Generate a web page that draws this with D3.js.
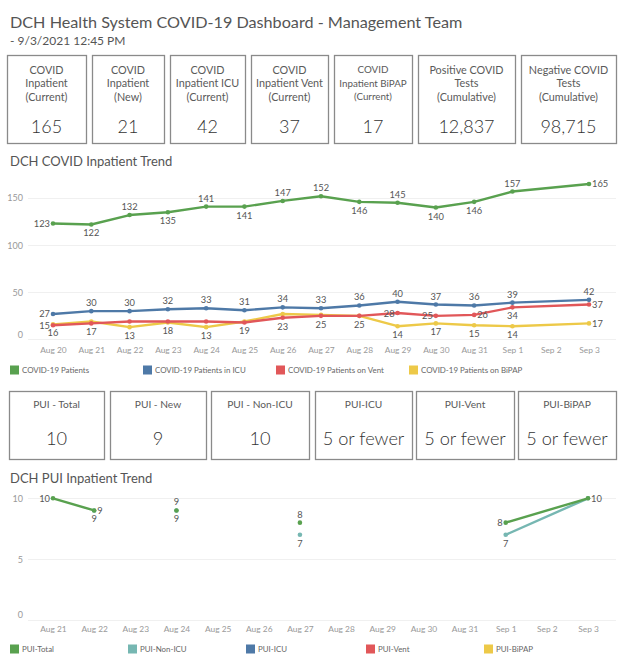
<!DOCTYPE html>
<html><head><meta charset="utf-8">
<script src="https://cdn.jsdelivr.net/npm/d3@7"></script>
<style>
body{margin:0;background:#fff;}
svg text{font-family:Lato,"Open Sans",sans-serif;}
</style>
</head><body>
<svg id="c" width="624" height="666"></svg>
<script>
// ---------- DATA ----------
const titleText = "DCH Health System COVID-19 Dashboard - Management Team";
const subtitleText = "- 9/3/2021 12:45 PM";

const kpiLabels = [
  ["COVID","Inpatient","(Current)"],
  ["COVID","Inpatient","(New)"],
  ["COVID","Inpatient ICU","(Current)"],
  ["COVID","Inpatient Vent","(Current)"],
  ["COVID","Inpatient BiPAP","(Current)"],
  ["Positive COVID","Tests","(Cumulative)"],
  ["Negative COVID","Tests","(Cumulative)"]
];
const kpiValues = ["165","21","42","37","17","12,837","98,715"];

const puiLabels = ["PUI - Total","PUI - New","PUI - Non-ICU","PUI-ICU","PUI-Vent","PUI-BiPAP"];
const puiValues = ["10","9","10","5 or fewer","5 or fewer","5 or fewer"];

// trend chart axis
const trendTickDates = ["2021-08-20","2021-08-21","2021-08-22","2021-08-23","2021-08-24","2021-08-25","2021-08-26","2021-08-27","2021-08-28","2021-08-29","2021-08-30","2021-08-31","2021-09-01","2021-09-02","2021-09-03"];
const trendTickLabels = ["Aug 20","Aug 21","Aug 22","Aug 23","Aug 24","Aug 25","Aug 26","Aug 27","Aug 28","Aug 29","Aug 30","Aug 31","Sep 1","Sep 2","Sep 3"];
const trendYTicks = [0,50,100,150];
// trend data rows (no row for Sep 2)
const trendDates = ["2021-08-20","2021-08-21","2021-08-22","2021-08-23","2021-08-24","2021-08-25","2021-08-26","2021-08-27","2021-08-28","2021-08-29","2021-08-30","2021-08-31","2021-09-01","2021-09-03"];
const covidPatients = [123,122,132,135,141,141,147,152,146,145,140,146,157,165];
const covidICU      = [27,30,30,32,33,31,34,33,36,40,37,36,39,42];
const covidVent     = [15,17,19,19,19,18,23,25,25,28,25,26,34,37];
const covidBiPAP    = [16,19,13,18,13,19,27,26,25,14,17,15,14,17];
const trendSeriesNames = ["COVID-19 Patients","COVID-19 Patients in ICU","COVID-19 Patients on Vent","COVID-19 Patients on BiPAP"];

// PUI chart
const puiTickDates = ["2021-08-21","2021-08-22","2021-08-23","2021-08-24","2021-08-25","2021-08-26","2021-08-27","2021-08-28","2021-08-29","2021-08-30","2021-08-31","2021-09-01","2021-09-02","2021-09-03"];
const puiTickLabels = ["Aug 21","Aug 22","Aug 23","Aug 24","Aug 25","Aug 26","Aug 27","Aug 28","Aug 29","Aug 30","Aug 31","Sep 1","Sep 2","Sep 3"];
const puiYTicks = [0,5,10];
const puiDates = ["2021-08-21","2021-08-22","2021-08-23","2021-08-24","2021-08-25","2021-08-26","2021-08-27","2021-08-28","2021-08-29","2021-08-30","2021-08-31","2021-09-01","2021-09-03"];
const puiTotal  = [10,9,null,9,null,null,8,null,null,null,null,8,10];
const puiNonICU = [null,9,null,9,null,null,7,null,null,null,null,7,10];
const puiICU    = [null,null,null,null,null,null,null,null,null,null,null,null,null];
const puiVent   = [null,null,null,null,null,null,null,null,null,null,null,null,null];
const puiBiPAP  = [null,null,null,null,null,null,null,null,null,null,null,null,null];
const puiSeriesNames = ["PUI-Total","PUI-Non-ICU","PUI-ICU","PUI-Vent","PUI-BiPAP"];

// ---------- STYLE / LAYOUT ----------
const C = {green:"#59a14f", blue:"#4e79a7", red:"#e15759", yellow:"#edc948", teal:"#76b7b2"};
const textDark = "#555", textAxis = "#999";
// label placement: a=above b=below l=left r=right ''=none
const placePatients = ["l","b","a","b","a","b","a","a","b","a","b","b","a","r"];
const placeICU      = ["l","a","a","a","a","a","a","a","a","a","a","a","a","a"];
const placeVent     = ["l","b","","","","","b","b","b","l","l","r","b","r"];
const placeBiPAP    = ["b","","b","b","b","b","","","","b","b","b","b","r"];
const placePuiTotal  = ["l","r","","a","","","a","","","","","l","r"];
const placePuiNonICU = ["","b","","b","","","b","","","","","b",""];

const parse = d3.timeParse("%Y-%m-%d");
const svg = d3.select("#c");
svg.append("rect").attr("width",624).attr("height",666).attr("fill","#fff");

// Header
svg.append("text").attr("x",10).attr("y",28).attr("font-size",16.2).attr("fill","#555").text(titleText);
svg.append("text").attr("x",10).attr("y",45).attr("font-size",12).attr("fill","#555").text(subtitleText);

// KPI boxes
const kpiBoxes = [[7,86],[92,164],[170,245],[251,328],[334,412],[418,515],[521,616]];
kpiBoxes.forEach((b,i)=>{
  const g = svg.append("g");
  g.append("rect").attr("x",b[0]+0.5).attr("y",55.5).attr("width",b[1]-b[0]).attr("height",88)
    .attr("fill","#fff").attr("stroke","#8a8a8a").attr("stroke-width",1.3);
  const cx = (b[0]+b[1])/2;
  const fs = i===4 ? 9.8 : 10.8;
  kpiLabels[i].forEach((t,j)=>{
    g.append("text").attr("x",cx).attr("y",69+j*13.7).attr("text-anchor","middle")
      .attr("dominant-baseline","central").attr("font-size",fs).attr("fill","#5a5a5a").text(t);
  });
  g.append("text").attr("x",cx).attr("y",126).attr("text-anchor","middle").attr("dominant-baseline","central")
    .attr("font-size",18).attr("fill","#333").attr("font-weight",300).text(kpiValues[i]);
});

// PUI boxes
const puiBoxes = [[9,104],[110,206],[211,309],[315,412],[416,514],[518,616]];
puiBoxes.forEach((b,i)=>{
  const g = svg.append("g");
  g.append("rect").attr("x",b[0]+0.5).attr("y",391.5).attr("width",b[1]-b[0]).attr("height",68)
    .attr("fill","#fff").attr("stroke","#8a8a8a").attr("stroke-width",1.3);
  const cx = (b[0]+b[1])/2;
  g.append("text").attr("x",cx).attr("y",404).attr("text-anchor","middle").attr("dominant-baseline","central")
    .attr("font-size",10.2).attr("fill","#5a5a5a").text(puiLabels[i]);
  g.append("text").attr("x",cx).attr("y",438).attr("text-anchor","middle").attr("dominant-baseline","central")
    .attr("font-size",18.2).attr("fill","#333").attr("font-weight",300).text(puiValues[i]);
});

function drawChart(opt){
  const g = svg.append("g");
  g.append("text").attr("x",10).attr("y",opt.titleY).attr("dominant-baseline","central")
    .attr("font-size",13).attr("fill","#555").text(opt.title);
  const x = d3.scaleTime().domain([parse(opt.tickDates[0]), parse(opt.tickDates[opt.tickDates.length-1])]).range(opt.xRange);
  const y = d3.scaleLinear().domain(opt.yDomain).range(opt.yRange);
  // gridlines
  g.selectAll(".grid").data(opt.yTicks).join("line")
    .attr("x1",opt.gridX[0]).attr("x2",opt.gridX[1])
    .attr("y1",d=>Math.round(y(d))+0.5).attr("y2",d=>Math.round(y(d))+0.5)
    .attr("stroke","#f0f0f0").attr("stroke-width",1);
  // y axis
  const ya = d3.axisLeft(y).tickValues(opt.yTicks).tickSize(0).tickPadding(0);
  const yg = g.append("g").attr("transform",`translate(${opt.yLabelX},0)`).call(ya);
  yg.select(".domain").remove();
  yg.selectAll("text").attr("font-size",9).attr("fill",textAxis).attr("font-family","Lato,'Open Sans',sans-serif")
    .attr("dy",d=>d===0? "-0.25em":"0.32em");
  // x axis
  const tickMap = new Map(opt.tickDates.map((d,i)=>[+parse(d),opt.tickLabels[i]]));
  const xa = d3.axisBottom(x).tickValues(opt.tickDates.map(parse)).tickSize(0).tickPadding(0)
    .tickFormat(d=>tickMap.get(+d));
  const xg = g.append("g").attr("transform",`translate(0,${opt.xLabelY})`).call(xa);
  xg.select(".domain").remove();
  xg.selectAll("text").attr("font-size",8.4).attr("fill",textAxis).attr("font-family","Lato,'Open Sans',sans-serif").attr("dy","0.32em");
  // series
  const dates = opt.dates.map(parse);
  opt.series.forEach(s=>{
    const pts = s.values.map((v,i)=>({d:dates[i], v, p:s.place ? s.place[i] : ""}));
    const line = d3.line().defined(p=>p.v!==null).x(p=>x(p.d)).y(p=>y(p.v));
    g.append("path").datum(pts).attr("d",line).attr("fill","none").attr("stroke",s.color)
      .attr("stroke-width",2.4).attr("stroke-linejoin","round").attr("stroke-linecap","round");
    const valid = pts.filter(p=>p.v!==null);
    g.selectAll(null).data(valid).join("circle").attr("cx",p=>x(p.d)).attr("cy",p=>y(p.v))
      .attr("r",2.3).attr("fill",s.color);
    s.labelPts = valid;
  });
  // labels on top
  opt.series.forEach(s=>{
    s.labelPts.filter(p=>p.p).forEach(p=>{
      const px = x(p.d), py = y(p.v);
      let tx=px, ty=py, anchor="middle";
      if(p.p==="a"){ty=py-8.5;}
      else if(p.p==="b"){ty=py+8.5;}
      else if(p.p==="l"){tx=px-3; anchor="end";}
      else if(p.p==="r"){tx=px+3; anchor="start";}
      g.append("text").attr("x",tx).attr("y",ty).attr("text-anchor",anchor).attr("dominant-baseline","central")
        .attr("font-size",9.3).attr("fill",textDark).text(p.v);
    });
  });
  // legend
  opt.legend.forEach((l,i)=>{
    g.append("rect").attr("x",l.x).attr("y",opt.legendY-4.5).attr("width",9).attr("height",9).attr("fill",l.color);
    g.append("text").attr("x",l.x+12).attr("y",opt.legendY).attr("dominant-baseline","central")
      .attr("font-size",7.9).attr("fill","#666").text(l.name);
  });
}

drawChart({
  title:"DCH COVID Inpatient Trend", titleY:161,
  tickDates:trendTickDates, tickLabels:trendTickLabels, xRange:[53,589],
  yDomain:[0,150], yRange:[339.4,198.1], yTicks:trendYTicks, gridX:[28,616], yLabelX:23,
  xLabelY:350, dates:trendDates,
  series:[
    {values:covidPatients, color:C.green, place:placePatients},
    {values:covidICU, color:C.blue, place:placeICU},
    {values:covidVent, color:C.red, place:placeVent},
    {values:covidBiPAP, color:C.yellow, place:placeBiPAP}
  ].reverse(),
  legendY:370,
  legend:[
    {x:10,name:trendSeriesNames[0],color:C.green},
    {x:143,name:trendSeriesNames[1],color:C.blue},
    {x:276,name:trendSeriesNames[2],color:C.red},
    {x:409,name:trendSeriesNames[3],color:C.yellow}
  ]
});

drawChart({
  title:"DCH PUI Inpatient Trend", titleY:478,
  tickDates:puiTickDates, tickLabels:puiTickLabels, xRange:[53,588],
  yDomain:[0,10], yRange:[620,498.3], yTicks:puiYTicks, gridX:[28,616], yLabelX:23,
  xLabelY:629.5, dates:puiDates,
  series:[
    {values:puiBiPAP, color:C.yellow},
    {values:puiVent, color:C.red},
    {values:puiICU, color:C.blue},
    {values:puiNonICU, color:C.teal, place:placePuiNonICU},
    {values:puiTotal, color:C.green, place:placePuiTotal}
  ],
  legendY:649,
  legend:[
    {x:10,name:puiSeriesNames[0],color:C.green},
    {x:128,name:puiSeriesNames[1],color:C.teal},
    {x:246,name:puiSeriesNames[2],color:C.blue},
    {x:366,name:puiSeriesNames[3],color:C.red},
    {x:484,name:puiSeriesNames[4],color:C.yellow}
  ]
});
</script>
</body></html>
